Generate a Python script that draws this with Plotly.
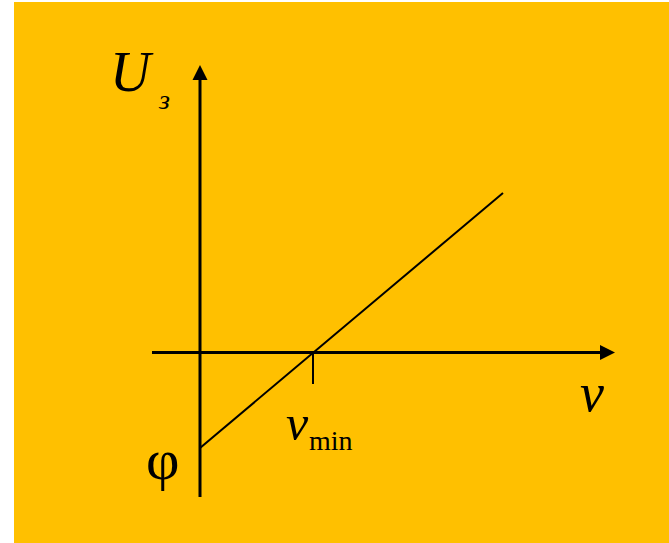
import plotly.graph_objects as go

# ---- data (arbitrary units: frequency nu, stopping voltage U) ----
nu_axis = [-0.48, 4.05]        # horizontal axis extent
U_axis_x = [0.0, 0.0]
U_axis = [-1.445, 2.80]        # vertical axis extent
nu_line = [0.0, 3.03]          # U3(nu) straight line
U_line = [-0.955, 1.595]
nu_min = 1.13
tick_U = [0.0, -0.315]
arrow_nu = [4.15]
arrow_U = [2.875]

W, H = 669, 543
ML, MT = 14, 2
X0, Y0 = 200, 352.5
SC = 100.0
xr = [-(X0 - ML) / SC, (W - X0) / SC]
yr = [(Y0 - H) / SC, (Y0 - MT) / SC]

def px(x):
    return (x - X0) / SC

def py(y):
    return (Y0 - y) / SC

fig = go.Figure()
black = "#000000"
fig.add_trace(go.Scatter(x=nu_axis, y=[0, 0], mode="lines",
                         line=dict(color=black, width=3), hoverinfo="skip"))
fig.add_trace(go.Scatter(x=U_axis_x, y=U_axis, mode="lines",
                         line=dict(color=black, width=3), hoverinfo="skip"))
fig.add_trace(go.Scatter(x=nu_line, y=U_line, mode="lines",
                         line=dict(color=black, width=2), hoverinfo="skip"))
fig.add_trace(go.Scatter(x=[nu_min, nu_min], y=tick_U, mode="lines",
                         line=dict(color=black, width=2), hoverinfo="skip"))
fig.add_trace(go.Scatter(x=arrow_nu, y=[0], mode="markers",
                         marker=dict(symbol="arrow-right", size=15, color=black,
                                     line=dict(width=0)), hoverinfo="skip"))
fig.add_trace(go.Scatter(x=[0], y=arrow_U, mode="markers",
                         marker=dict(symbol="arrow-up", size=15, color=black,
                                     line=dict(width=0)), hoverinfo="skip"))

serif = "Liberation Serif"
def label(text, cx, cy, size):
    fig.add_annotation(x=px(cx), y=py(cy), xref="x", yref="y", text=text,
                       showarrow=False, xanchor="center", yanchor="middle",
                       font=dict(family=serif, size=size, color=black))

label("<i>U</i>", 132, 72, 56)
label("<i>з</i>", 164, 99, 28)
label("<i>ν</i>", 592, 393, 54)
label("<i>ν</i>", 297, 423, 50)
label("min", 331, 440, 28)
label("φ", 162, 459, 58)

fig.update_layout(
    width=W, height=H,
    margin=dict(l=ML, r=0, t=MT, b=0),
    paper_bgcolor="white", plot_bgcolor="#FFC000",
    showlegend=False,
    xaxis=dict(range=xr, visible=False, fixedrange=True),
    yaxis=dict(range=yr, visible=False, fixedrange=True),
)
fig.write_html("out.html", config={"displayModeBar": False},
               post_script="document.body.style.margin='0';"
                           "document.body.style.overflow='hidden';")
